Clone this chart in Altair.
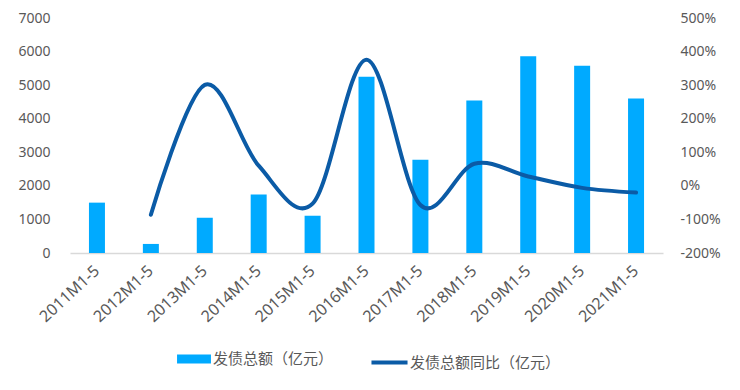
import altair as alt
import pandas as pd

categories = ["2011M1-5", "2012M1-5", "2013M1-5", "2014M1-5", "2015M1-5", "2016M1-5",
              "2017M1-5", "2018M1-5", "2019M1-5", "2020M1-5", "2021M1-5"]
amount = [1500, 270, 1050, 1740, 1110, 5250, 2780, 4540, 5860, 5580, 4600]
yoy_pct = [None, -86, 301, 60, -53, 376, -57, 66, 28, -6, -20]

bar_name = "发债总额（亿元）"
line_name = "发债总额同比（亿元）"

df = pd.DataFrame({"cat": categories, "amount": amount, "yoy": yoy_pct})
df["bar_s"] = bar_name
df["line_s"] = line_name

BAR_C = "#00AAFF"
LINE_C = "#0B5BA6"
GRAY = "#595959"
NUM_FONT = "Noto Sans"
CJK_FONT = "Noto Sans CJK SC"

x = alt.X("cat:N", sort=categories, title=None,
          scale=alt.Scale(paddingInner=0, paddingOuter=0),
          axis=alt.Axis(labelAngle=-43, labelFont=NUM_FONT, labelFontSize=16,
                        labelColor=GRAY, ticks=False, domainColor="#D9D9D9",
                        domainWidth=1.5, labelPadding=15, labelAlign="right",
                        labelBaseline="middle"))

bars = alt.Chart(df).mark_bar(size=16, color=BAR_C).encode(
    x=x,
    y=alt.Y("amount:Q", title=None,
            scale=alt.Scale(domain=[0, 7000], nice=False),
            axis=alt.Axis(values=list(range(0, 7001, 1000)), grid=False, domain=False,
                          ticks=False, labelFont=NUM_FONT, labelFontSize=14,
                          labelColor=GRAY, labelPadding=20, format="d")),
    color=alt.Color("bar_s:N", title=None,
                    scale=alt.Scale(domain=[bar_name], range=[BAR_C]),
                    legend=alt.Legend(orient="none", legendX=107, legendY=324,
                                      symbolType="M-1,-0.27H1V0.27H-1Z",
                                      symbolSize=1150, symbolStrokeWidth=0,
                                      labelFont=CJK_FONT, labelFontSize=15,
                                      labelColor=GRAY, labelOffset=2)),
)

line = alt.Chart(df).transform_filter("isValid(datum.yoy)").mark_line(
    strokeWidth=4, interpolate="cardinal", strokeCap="round"
).encode(
    x=x,
    y=alt.Y("yoy:Q", title=None,
            scale=alt.Scale(domain=[-200, 500], nice=False),
            axis=alt.Axis(orient="right", values=list(range(-200, 501, 100)), grid=False,
                          domain=False, ticks=False, labelFont=NUM_FONT, labelFontSize=14,
                          labelColor=GRAY, labelPadding=17, labelExpr="datum.value + '%'")),
    stroke=alt.Stroke("line_s:N", title=None,
                      scale=alt.Scale(domain=[line_name], range=[LINE_C]),
                      legend=alt.Legend(orient="none", legendX=299, legendY=324,
                                        symbolType="stroke",
                                        symbolSize=1300, symbolStrokeWidth=4,
                                        labelFont=CJK_FONT, labelFontSize=15,
                                        labelColor=GRAY, labelOffset=0)),
)

chart = alt.layer(bars, line).resolve_scale(y="independent").properties(
    width=593, height=235, autosize="none",
    padding={"left": 62, "top": 10, "right": 69, "bottom": 129},
).configure_view(stroke=None)

chart.save("out.html", embed_options={"renderer": "svg", "actions": False})
